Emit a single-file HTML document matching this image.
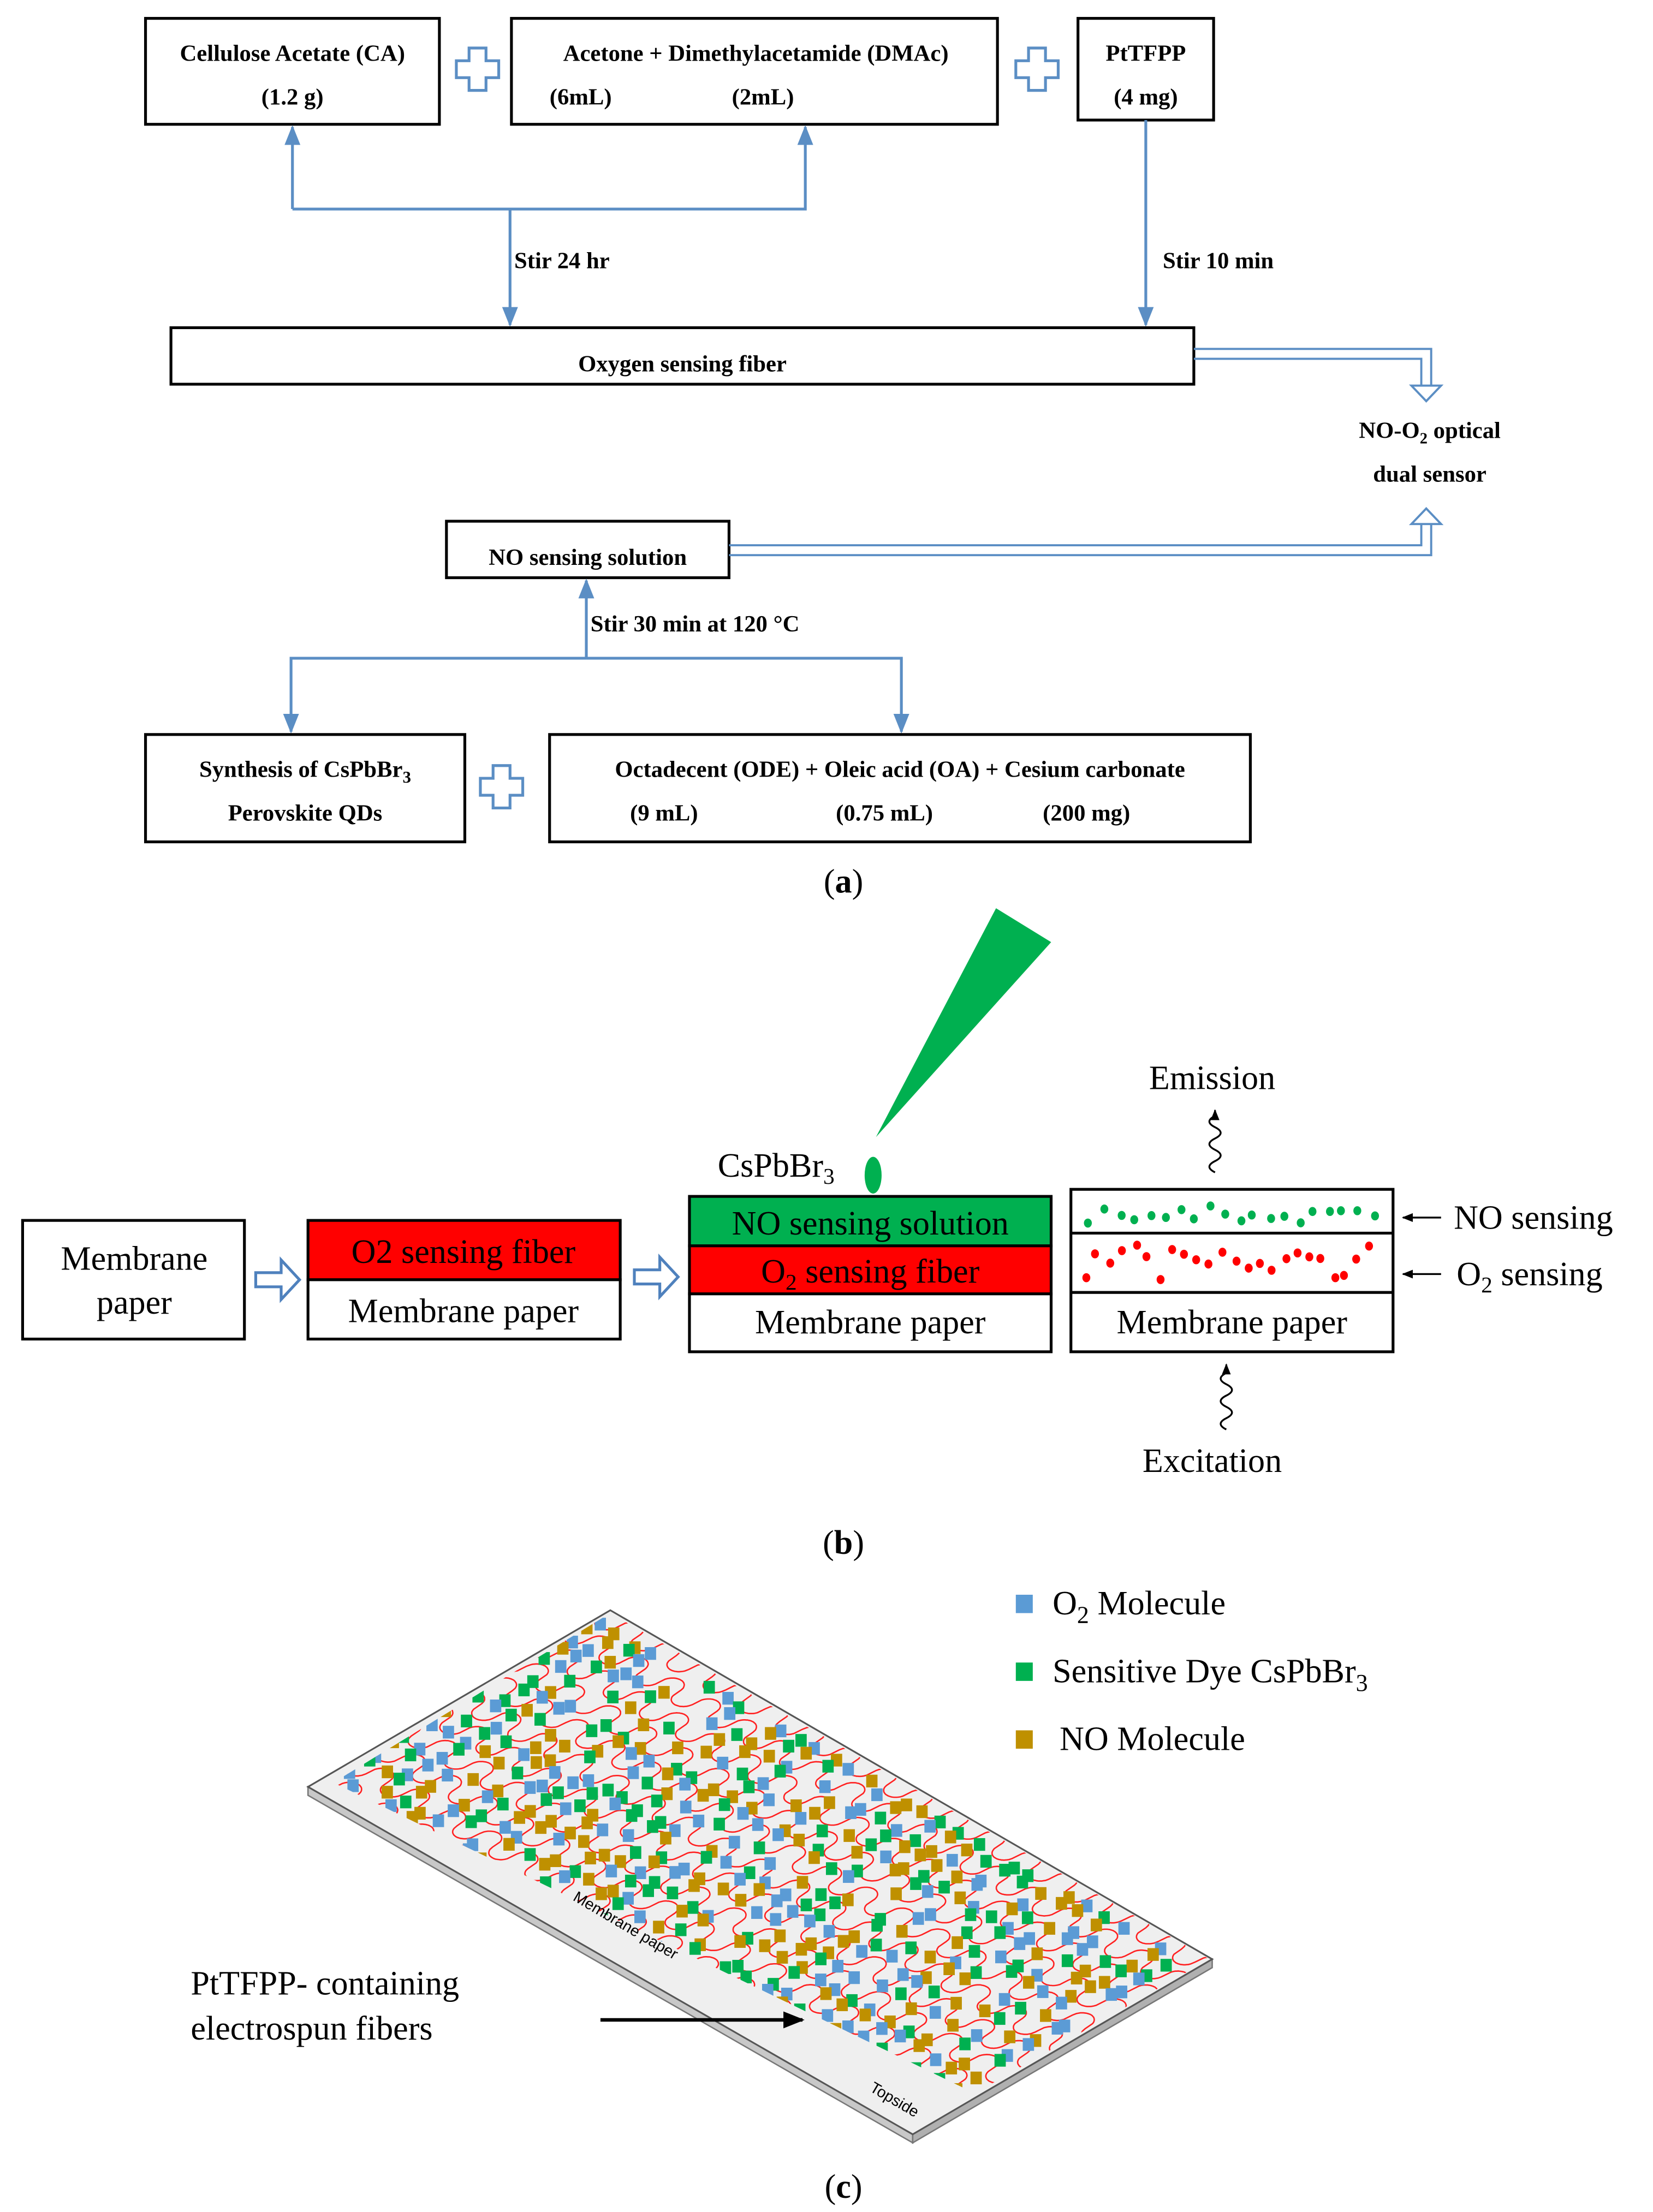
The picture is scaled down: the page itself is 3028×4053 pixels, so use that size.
<!DOCTYPE html>
<html><head><meta charset="utf-8">
<style>
html,body{margin:0;padding:0;background:#fff;}
svg{display:block;}
.a{font-family:"Liberation Serif","DejaVu Serif",serif;font-weight:bold;font-size:16.5px;fill:#000;}
.b{font-family:"Liberation Serif","DejaVu Serif",serif;font-size:24px;fill:#000;}
.bx{fill:#fff;stroke:#000;stroke-width:2;}
.bl{stroke:#5b8ec4;stroke-width:2;fill:none;}
</style></head>
<body>
<svg id="s" width="3028" height="4053" viewBox="0 0 1170 1566" preserveAspectRatio="none" xmlns="http://www.w3.org/2000/svg">
<defs>
<marker id="ar" viewBox="0 0 10 10" refX="9" refY="5" markerWidth="7" markerHeight="7" orient="auto-start-reverse"><path d="M0,1 L10,5 L0,9 z" fill="#5b8ec4"/></marker>
<marker id="ak" viewBox="0 0 10 10" refX="9" refY="5" markerWidth="6" markerHeight="6" orient="auto"><path d="M0,1 L10,5 L0,9 z" fill="#000"/></marker>
<clipPath id="fc"><polygon points="432,1142 856,1387 690,1482 236,1262"/></clipPath>
</defs>

<!-- ===== (a) ===== -->
<rect class="bx" x="103" y="13" width="208" height="75"/>
<text class="a" x="207" y="43" text-anchor="middle">Cellulose Acetate (CA)</text>
<text class="a" x="207" y="74" text-anchor="middle">(1.2 g)</text>
<rect class="bx" x="362" y="13" width="344" height="75"/>
<text class="a" x="535" y="43" text-anchor="middle">Acetone + Dimethylacetamide (DMAc)</text>
<text class="a" x="411" y="74" text-anchor="middle">(6mL)</text>
<text class="a" x="540" y="74" text-anchor="middle">(2mL)</text>
<rect class="bx" x="763" y="13" width="96" height="72"/>
<text class="a" x="811" y="43" text-anchor="middle">PtTFPP</text>
<text class="a" x="811" y="74" text-anchor="middle">(4 mg)</text>
<g class="bl" stroke-width="1.5">
<path d="M332,34 h12 v9 h9 v12 h-9 v9 h-12 v-9 h-9 v-12 h9 z"/>
<path d="M728,34 h12 v9 h9 v12 h-9 v9 h-12 v-9 h-9 v-12 h9 z"/>
<path d="M349,542 h12 v9 h9 v12 h-9 v9 h-12 v-9 h-9 v-12 h9 z"/>
</g>
<path class="bl" d="M207,148 V90" marker-end="url(#ar)"/>
<path class="bl" d="M207,148 H570 V90" marker-end="url(#ar)"/>
<path class="bl" d="M361,148 V230" marker-end="url(#ar)"/>
<text class="a" x="364" y="190">Stir 24 hr</text>
<path class="bl" d="M811,85 V230" marker-end="url(#ar)"/>
<text class="a" x="823" y="190">Stir 10 min</text>
<rect class="bx" x="121" y="232" width="724" height="40"/>
<text class="a" x="483" y="263" text-anchor="middle">Oxygen sensing fiber</text>
<path d="M845,247 H1013 V273 M845,254 H1006 V273" stroke="#5b8ec4" stroke-width="1.5" fill="none"/>
<path d="M999,273 h21 l-10.5,11 z" fill="#fff" stroke="#5b8ec4" stroke-width="1.5"/>
<text class="a" x="1012" y="310" text-anchor="middle">NO-O<tspan font-size="11" dy="4">2</tspan><tspan dy="-4"> optical</tspan></text>
<text class="a" x="1012" y="341" text-anchor="middle">dual sensor</text>
<rect class="bx" x="316" y="369" width="200" height="40"/>
<text class="a" x="416" y="400" text-anchor="middle">NO sensing solution</text>
<path d="M516,386 H1006 V370 M516,393 H1013 V370" stroke="#5b8ec4" stroke-width="1.5" fill="none"/>
<path d="M999,371 h21 l-10.5,-11 z" fill="#fff" stroke="#5b8ec4" stroke-width="1.5"/>
<path class="bl" d="M415,466 V411" marker-end="url(#ar)"/>
<text class="a" x="418" y="447">Stir 30 min at 120 °C</text>
<path class="bl" d="M415,466 H206 V518" marker-end="url(#ar)"/>
<path class="bl" d="M415,466 H638 V518" marker-end="url(#ar)"/>
<rect class="bx" x="103" y="520" width="226" height="76"/>
<text class="a" x="216" y="550" text-anchor="middle">Synthesis of CsPbBr<tspan font-size="12" dy="4">3</tspan></text>
<text class="a" x="216" y="581" text-anchor="middle">Perovskite QDs</text>
<rect class="bx" x="389" y="520" width="496" height="76"/>
<text class="a" x="637" y="550" text-anchor="middle">Octadecent (ODE) + Oleic acid (OA) + Cesium carbonate</text>
<text class="a" x="470" y="581" text-anchor="middle">(9 mL)</text>
<text class="a" x="626" y="581" text-anchor="middle">(0.75 mL)</text>
<text class="a" x="769" y="581" text-anchor="middle">(200 mg)</text>
<text class="b" x="597" y="632" text-anchor="middle" font-size="27">(<tspan font-weight="bold">a</tspan>)</text>

<!-- ===== (b) ===== -->
<polygon points="620,805 705,643 744,667" fill="#00b050"/>
<ellipse cx="618" cy="832" rx="6" ry="13" fill="#00b050"/>
<text class="b" x="508" y="833">CsPbBr<tspan font-size="16" dy="5">3</tspan></text>
<rect class="bx" x="16" y="864" width="157" height="84"/>
<text class="b" x="95" y="899" text-anchor="middle">Membrane</text>
<text class="b" x="95" y="930" text-anchor="middle">paper</text>
<path d="M181,901 h18 v-9 l13,14 l-13,14 v-9 h-18 z" fill="#fff" stroke="#4f81bd" stroke-width="2"/>
<rect x="218" y="864" width="221" height="42" fill="#ff0000" stroke="#000" stroke-width="2"/>
<text class="b" x="328" y="894" text-anchor="middle">O2 sensing fiber</text>
<rect class="bx" x="218" y="906" width="221" height="42"/>
<text class="b" x="328" y="936" text-anchor="middle">Membrane paper</text>
<path d="M449,899 h18 v-9 l13,14 l-13,14 v-9 h-18 z" fill="#fff" stroke="#4f81bd" stroke-width="2"/>
<rect x="488" y="847" width="256" height="35" fill="#00b050" stroke="#000" stroke-width="2"/>
<text class="b" x="616" y="874" text-anchor="middle">NO sensing solution</text>
<rect x="488" y="882" width="256" height="34" fill="#ff0000" stroke="#000" stroke-width="2"/>
<text class="b" x="616" y="908" text-anchor="middle">O<tspan font-size="16" dy="5">2</tspan><tspan dy="-5"> sensing fiber</tspan></text>
<rect class="bx" x="488" y="916" width="256" height="41"/>
<text class="b" x="616" y="944" text-anchor="middle">Membrane paper</text>
<rect class="bx" x="758" y="842" width="228" height="115"/>
<line x1="758" y1="873" x2="986" y2="873" stroke="#000" stroke-width="2"/>
<line x1="758" y1="915" x2="986" y2="915" stroke="#000" stroke-width="2"/>
<text class="b" x="872" y="944" text-anchor="middle" font-size="26">Membrane paper</text>
<g id="gd" fill="#00b050"></g>
<g id="rd" fill="#ff0000"></g>
<text class="b" x="858" y="771" text-anchor="middle">Emission</text>
<path d="M860,830 q-8,-4 0,-8 q8,-4 0,-8 q-8,-4 0,-8 q8,-4 0,-8 q-8,-4 0,-8 V786" stroke="#000" stroke-width="1.3" fill="none" marker-end="url(#ak)"/>
<text class="b" x="858" y="1042" text-anchor="middle">Excitation</text>
<path d="M868,1012 q-8,-4 0,-8 q8,-4 0,-8 q-8,-4 0,-8 q8,-4 0,-8 q-8,-4 0,-8 V966" stroke="#000" stroke-width="1.3" fill="none" marker-end="url(#ak)"/>
<path d="M1020,862 H993" stroke="#000" stroke-width="1.3" marker-end="url(#ak)"/>
<text class="b" x="1029" y="870">NO sensing</text>
<path d="M1020,902 H993" stroke="#000" stroke-width="1.3" marker-end="url(#ak)"/>
<text class="b" x="1031" y="910">O<tspan font-size="16" dy="5">2</tspan><tspan dy="-5"> sensing</tspan></text>
<text class="b" x="597" y="1100" text-anchor="middle" font-size="27">(<tspan font-weight="bold">b</tspan>)</text>

<!-- ===== (c) ===== -->
<rect x="719" y="1129" width="12" height="13" fill="#5b9bd5"/>
<text class="b" x="745" y="1143" font-size="27">O<tspan font-size="17" dy="6">2</tspan><tspan dy="-6"> Molecule</tspan></text>
<rect x="719" y="1177" width="12" height="13" fill="#00b050"/>
<text class="b" x="745" y="1191" font-size="27">Sensitive Dye CsPbBr<tspan font-size="17" dy="6">3</tspan></text>
<rect x="719" y="1225" width="12" height="13" fill="#bf9000"/>
<text class="b" x="750" y="1239" font-size="27">NO Molecule</text>

<polygon points="218,1265 646,1511 646,1517 218,1271" fill="#c8c8c8" stroke="#777" stroke-width="1"/>
<polygon points="646,1511 858,1387 858,1393 646,1517" fill="#b0b0b0" stroke="#777" stroke-width="1"/>
<polygon points="432,1140 858,1387 646,1511 218,1265" fill="#efefef" stroke="#555" stroke-width="1.2"/>
<g id="fib" clip-path="url(#fc)"></g>
<text x="405" y="1345" font-family="Liberation Sans,sans-serif" font-size="11" transform="rotate(30.5 405 1345)">Membrane  paper</text>
<text x="615" y="1480" font-family="Liberation Sans,sans-serif" font-size="11" transform="rotate(30.5 615 1480)">Topside</text>
<text class="b" x="135" y="1412" font-size="30">PtTFPP- containing</text>
<text class="b" x="135" y="1444" font-size="30">electrospun fibers</text>
<path d="M425,1430 H568" stroke="#000" stroke-width="2.5" fill="none" marker-end="url(#ak)"/>
<text class="b" x="597" y="1556" text-anchor="middle" font-size="27">(<tspan font-weight="bold">c</tspan>)</text>
</svg>
<script>
(function(){
var NS="http://www.w3.org/2000/svg";
var seed=7;function r(){seed=(seed*16807)%2147483647;return (seed-1)/2147483646;}
function el(t,a,p){var e=document.createElementNS(NS,t);for(var k in a)e.setAttribute(k,a[k]);p.appendChild(e);return e;}
var gd=document.getElementById('gd'),rd=document.getElementById('rd');
for(var i=0;i<20;i++){el('ellipse',{cx:770+i*10.5+r()*4,cy:853+r()*14,rx:2.8,ry:3.2},gd);}
for(var i=0;i<24;i++){el('ellipse',{cx:766+i*8.8+r()*4,cy:880+r()*28,rx:2.8,ry:3.2},rd);}
var O=[432,1140],L=[426,247],S=[-214,125];
function P(u,v){return [O[0]+u*L[0]+v*S[0],O[1]+u*L[1]+v*S[1]];}
var fib=document.getElementById('fib');
var nf=11;
for(var k=0;k<nf;k++){
  var v0=0.03+k*0.092,d="";
  for(var j=0;j<=900;j++){
    var u=-0.02+j*(1.04/900);
    var s=Math.sin(u*2*Math.PI/0.06+k*0.7);
    var w=(s<0?-1:1)*Math.pow(Math.abs(s),0.35)*0.04;
    var p=P(u,v0+w);
    d+=(j?"L":"M")+p[0].toFixed(1)+","+p[1].toFixed(1);
  }
  el('path',{d:d,stroke:'#ff2020','stroke-width':1,fill:'none'},fib);
}
var cols=['#5b9bd5','#00b050','#bf9000'];
for(var k=0;k<nf;k++){
  for(var row=0;row<2;row++){
    for(var u=0.01;u<1;u+=0.03){
      if(r()<0.3)continue;
      var v=0.03+k*0.092+0.03+row*0.03+(r()-0.5)*0.015;
      var p=P(u+(r()-0.5)*0.01,v);
      el('rect',{x:(p[0]-4).toFixed(1),y:(p[1]-4.5).toFixed(1),width:8,height:9,fill:cols[Math.floor(r()*3)]},fib);
    }
  }
}
})();
</script>
</body></html>
